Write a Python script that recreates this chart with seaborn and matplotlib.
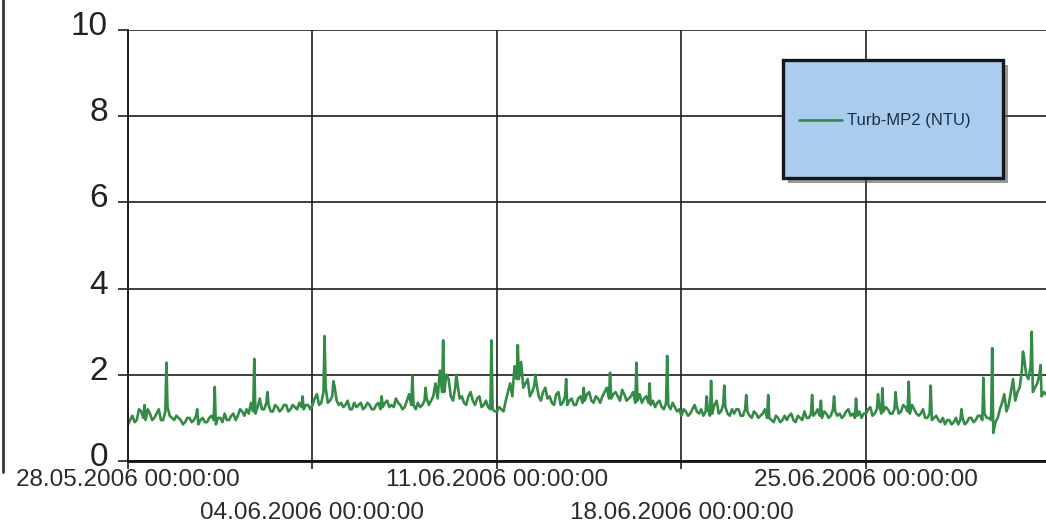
import pandas as pd
import matplotlib
matplotlib.use("Agg")
import matplotlib.pyplot as plt
import matplotlib.ticker as mticker
import matplotlib.dates as mdates
import matplotlib.transforms as mtransforms
from matplotlib.patches import Rectangle
from matplotlib.lines import Line2D
import seaborn as sns

# ---------------- data ----------------
series_name = "Turb-MP2 (NTU)"
start_even = "2006-05-28 00:00"   # readings at 00,04,08,12,16,20 h
start_odd = "2006-05-28 02:00"    # readings at 02,06,10,14,18,22 h
readings_even = [
    0.85, 1.05, 0.95, 1.15, 0.95, 1.10,   # 28.05
    1.00, 1.20, 0.95, 1.25, 1.00, 1.05,   # 29.05
    0.95, 0.90, 1.00, 0.95, 0.85, 1.00,   # 30.05
    0.90, 1.05, 0.85, 1.00, 1.10, 0.95,   # 31.05
    1.10, 1.05, 1.15, 1.20, 1.35, 1.10,   # 01.06
    1.45, 1.20, 1.30, 1.15, 1.25, 1.20,   # 02.06
    1.30, 1.20, 1.25, 1.35, 1.20, 1.30,   # 03.06
    1.30, 1.55, 1.35, 1.70, 1.40, 1.75,   # 04.06
    1.30, 1.25, 1.40, 1.20, 1.25, 1.35,   # 05.06
    1.25, 1.30, 1.20, 1.35, 1.25, 1.40,   # 06.06
    1.30, 1.45, 1.30, 1.25, 1.55, 1.30,   # 07.06
    1.35, 1.30, 1.45, 1.40, 1.80, 2.10,   # 08.06
    1.60, 1.90, 1.40, 1.80, 1.50, 1.30,   # 09.06
    1.60, 1.30, 1.50, 1.30, 1.25, 1.20,   # 10.06
    1.15, 1.20, 1.40, 1.80, 2.20, 1.90,   # 11.06
    1.70, 1.90, 1.60, 1.80, 1.40, 1.70,   # 12.06
    1.50, 1.30, 1.60, 1.35, 1.30, 1.45,   # 13.06
    1.30, 1.50, 1.40, 1.60, 1.35, 1.45,   # 14.06
    1.50, 1.70, 1.45, 1.60, 1.40, 1.55,   # 15.06
    1.45, 1.60, 1.40, 1.35, 1.50, 1.30,   # 16.06
    1.25, 1.40, 1.20, 1.30, 1.35, 1.15,   # 17.06
    1.05, 1.15, 1.10, 1.30, 1.10, 1.05,   # 18.06
    1.20, 1.10, 1.40, 1.15, 1.25, 1.05,   # 19.06
    1.10, 1.20, 1.05, 1.15, 1.00, 1.10,   # 20.06
    1.05, 1.20, 1.00, 0.90, 1.00, 0.95,   # 21.06
    0.95, 1.10, 0.90, 1.00, 1.15, 1.00,   # 22.06
    1.05, 1.20, 1.00, 1.10, 1.05, 1.15,   # 23.06
    1.10, 1.05, 1.20, 1.10, 1.05, 1.00,   # 24.06
    1.10, 1.25, 1.10, 1.30, 1.15, 1.20,   # 25.06
    1.10, 1.30, 1.15, 1.25, 1.10, 1.20,   # 26.06
    1.05, 1.20, 1.00, 0.95, 1.05, 0.90,   # 27.06
    0.85, 0.95, 0.90, 0.85, 1.00, 0.90,   # 28.06
    1.00, 0.95, 1.05, 1.10, 1.00, 0.65,   # 29.06
    1.00, 1.35, 1.15, 1.60, 1.40, 1.70,   # 30.06
    2.40, 1.90, 1.60, 1.80, 1.50, 1.55,   # 01.07
]
readings_odd = [
    0.95, 0.90, 1.20, 1.00, 1.20, 0.95,   # 28.05
    1.10, 0.95, 1.15, 1.05, 0.95, 1.00,   # 29.05
    0.85, 1.00, 0.90, 1.05, 0.95, 0.90,   # 30.05
    1.00, 0.95, 1.00, 0.90, 0.95, 1.05,   # 31.05
    0.95, 1.20, 1.05, 1.10, 1.15, 1.25,   # 01.06
    1.20, 1.35, 1.15, 1.30, 1.15, 1.30,   # 02.06
    1.15, 1.30, 1.20, 1.25, 1.30, 1.20,   # 03.06
    1.45, 1.30, 1.60, 1.35, 1.50, 1.40,   # 04.06
    1.35, 1.30, 1.20, 1.35, 1.30, 1.20,   # 05.06
    1.35, 1.20, 1.30, 1.20, 1.35, 1.25,   # 06.06
    1.25, 1.35, 1.20, 1.40, 1.30, 1.20,   # 07.06
    1.25, 1.40, 1.30, 1.50, 1.45, 1.60,   # 08.06
    2.00, 1.50, 1.70, 1.45, 1.35, 1.50,   # 09.06
    1.40, 1.45, 1.25, 1.40, 1.20, 1.15,   # 10.06
    1.25, 1.15, 1.60, 1.50, 1.90, 2.30,   # 11.06
    1.80, 1.50, 1.75, 1.50, 1.60, 1.45,   # 12.06
    1.35, 1.55, 1.30, 1.50, 1.40, 1.30,   # 13.06
    1.45, 1.35, 1.55, 1.40, 1.50, 1.35,   # 14.06
    1.60, 1.45, 1.55, 1.50, 1.65, 1.40,   # 15.06
    1.50, 1.35, 1.55, 1.45, 1.35, 1.40,   # 16.06
    1.35, 1.25, 1.35, 1.20, 1.25, 1.20,   # 17.06
    1.20, 1.05, 1.20, 1.15, 1.20, 1.15,   # 18.06
    1.05, 1.30, 1.10, 1.30, 1.10, 1.20,   # 19.06
    1.20, 1.05, 1.20, 1.05, 1.15, 1.00,   # 20.06
    1.10, 1.00, 0.95, 1.05, 0.90, 1.05,   # 21.06
    1.05, 0.95, 1.05, 0.95, 1.00, 1.10,   # 22.06
    1.10, 1.05, 1.15, 1.00, 1.20, 1.05,   # 23.06
    1.00, 1.15, 1.05, 1.00, 1.15, 1.10,   # 24.06
    1.20, 1.05, 1.20, 1.10, 1.25, 1.10,   # 25.06
    1.20, 1.10, 1.30, 1.15, 1.30, 1.10,   # 26.06
    1.10, 1.00, 1.10, 1.00, 0.95, 1.00,   # 27.06
    0.95, 0.85, 1.00, 0.95, 0.85, 1.00,   # 28.06
    0.90, 1.05, 0.95, 1.00, 0.95, 0.90,   # 29.06
    1.20, 1.55, 1.30, 1.90, 1.60, 2.10,   # 30.06
    2.00, 2.20, 1.70, 2.00, 1.60, 1.50,   # 01.07
]
spike_times = [
    "2006-05-28 15:00", "2006-05-29 11:00", "2006-05-30 15:00", "2006-05-31 07:00",
    "2006-06-01 19:00", "2006-06-02 07:00", "2006-06-03 15:00", "2006-06-04 11:00",
    "2006-06-04 19:00", "2006-06-06 15:00", "2006-06-07 19:00", "2006-06-08 07:00",
    "2006-06-08 23:00", "2006-06-09 11:00", "2006-06-10 19:00", "2006-06-11 19:00",
    "2006-06-12 11:00", "2006-06-13 15:00", "2006-06-14 07:00", "2006-06-15 07:00",
    "2006-06-16 07:00", "2006-06-16 19:00", "2006-06-17 11:00", "2006-06-18 23:00",
    "2006-06-19 03:00", "2006-06-19 15:00", "2006-06-20 11:00", "2006-06-21 07:00",
    "2006-06-22 23:00", "2006-06-23 07:00", "2006-06-23 19:00", "2006-06-24 15:00",
    "2006-06-25 11:00", "2006-06-25 15:00", "2006-06-26 03:00", "2006-06-26 15:00",
    "2006-06-27 11:00", "2006-06-28 15:00", "2006-06-29 11:00", "2006-06-29 19:00",
    "2006-06-30 23:00", "2006-07-01 07:00", "2006-07-01 15:00",
]
spike_values = [
    1.30, 2.28, 1.20, 1.72,
    2.37, 1.60, 1.50, 2.90,
    1.85, 1.50, 1.97, 1.70,
    2.80, 2.00, 2.80, 2.69,
    2.00, 1.90, 1.70, 2.05,
    2.28, 1.80, 2.44, 1.50,
    1.86, 1.75, 1.53, 1.53,
    1.53, 1.40, 1.50, 1.45,
    1.55, 1.69, 1.60, 1.84,
    1.75, 1.20, 1.93, 2.62,
    2.54, 3.00, 2.23,
]
y_ticks = [0, 2, 4, 6, 8, 10]
row1_dates = ["2006-05-28", "2006-06-11", "2006-06-25"]
row2_dates = ["2006-06-04", "2006-06-18", "2006-07-02"]
x_start = "2006-05-28 00:00"
x_end = "2006-07-01 20:00"

# ---------------- style ----------------
sns.set_style("white")
plt.rcParams["font.family"] = ["Liberation Sans", "DejaVu Sans"]

line_color = "#338c46"
grid_color = "#1e1e1e"

times = (list(pd.date_range(start_even, periods=len(readings_even), freq="4h"))
         + list(pd.date_range(start_odd, periods=len(readings_odd), freq="4h"))
         + list(pd.to_datetime(spike_times)))
values = readings_even + readings_odd + spike_values
df = pd.DataFrame({"time": times, "value": values}).sort_values("time")

fig = plt.figure(figsize=(10.46, 5.30), dpi=100)
W, H = 1046, 530
ax = fig.add_axes([128 / W, 1 - 461 / H, 918 / W, 431 / H])

sns.lineplot(data=df, x="time", y="value", ax=ax, color=line_color, linewidth=1.9,
             estimator=None, sort=True, label=series_name, legend=False)

ax.set_xlim(pd.Timestamp(x_start), pd.Timestamp(x_end))
ax.set_ylim(0, 10)
ax.set_yticks(y_ticks)
ax.set_xlabel("")
ax.set_ylabel("")

ax.xaxis.set_major_locator(mticker.FixedLocator(mdates.date2num(pd.to_datetime(row1_dates))))
ax.xaxis.set_minor_locator(mticker.FixedLocator(mdates.date2num(pd.to_datetime(row2_dates))))
fmt = mdates.DateFormatter("%d.%m.%Y %H:%M:%S")
ax.xaxis.set_major_formatter(fmt)
ax.xaxis.set_minor_formatter(fmt)

ax.set_axisbelow(True)
ax.xaxis.grid(True, which="both", color=grid_color, linewidth=1.2)
ax.yaxis.grid(True, which="major", color=grid_color, linewidth=1.2)

for s in ["top", "right"]:
    ax.spines[s].set_visible(False)
ax.spines["left"].set_color(grid_color)
ax.spines["left"].set_linewidth(1.4)
ax.spines["bottom"].set_color("#111111")
ax.spines["bottom"].set_linewidth(2.0)

ax.tick_params(axis="y", which="major", direction="out", length=7.5, width=1.2,
               color=grid_color, labelsize=24, labelcolor="#222222", pad=7, left=True)
ax.tick_params(axis="x", which="major", direction="out", length=6, width=1.2,
               color=grid_color, labelsize=17.5, labelcolor="#2a2a2a", pad=0, bottom=True)
ax.tick_params(axis="x", which="minor", direction="out", length=6, width=1.2,
               color=grid_color, labelsize=17.5, labelcolor="#2a2a2a", pad=23.5, bottom=True)

offset = mtransforms.ScaledTranslation(0, 7 / 100, fig.dpi_scale_trans)
for lab in ax.get_yticklabels():
    lab.set_transform(lab.get_transform() + offset)

# legend box with shadow
bx0, bx1 = (783 - 128) / 918, (1003 - 128) / 918
by0, by1 = (461 - 178) / 431, (461 - 60) / 431
sh = Rectangle((bx0 + 5 / 918, by0 - 5 / 431), bx1 - bx0, by1 - by0, transform=ax.transAxes,
               facecolor="#555555", edgecolor="none", alpha=0.6, zorder=5, clip_on=False)
ax.add_patch(sh)
box = Rectangle((bx0, by0), bx1 - bx0, by1 - by0, transform=ax.transAxes,
                facecolor="#a9cdec", edgecolor="#161616", linewidth=2.4, zorder=6, clip_on=False)
ax.add_patch(box)
leg = ax.legend(loc="center left", bbox_to_anchor=((799 - 128) / 918, (461 - 121) / 431),
                frameon=False, fontsize=12, handlelength=2.6, handletextpad=0.3,
                borderpad=0, borderaxespad=0)
leg.set_zorder(7)
for t in leg.get_texts():
    t.set_color("#1f2d4d")

# scanned page edge on the left
fig.add_artist(Line2D([0.0025, 0.0025], [0.11, 1.0], transform=fig.transFigure,
                      color="#333333", linewidth=2))

fig.savefig("out.png", dpi=100)
